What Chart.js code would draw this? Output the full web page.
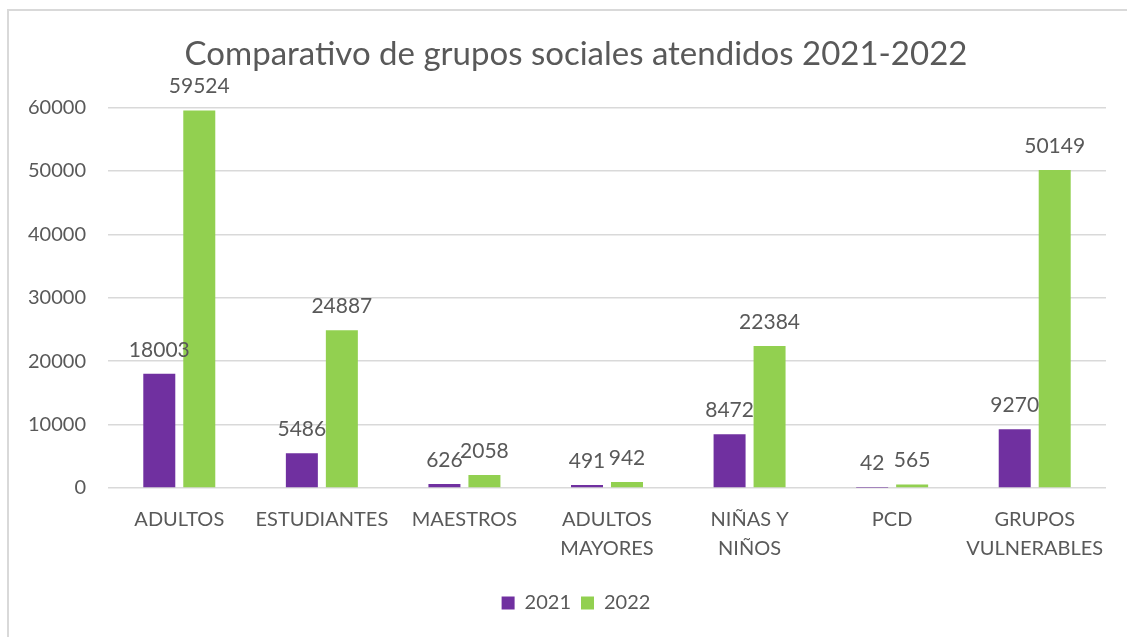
<!DOCTYPE html>
<html>
<head>
<meta charset="utf-8">
<script src="https://cdn.jsdelivr.net/npm/chart.js@4.4.0/dist/chart.umd.min.js"></script>
<style>
  html, body { margin: 0; padding: 0; background: #ffffff; }
  #frame {
    position: absolute; left: 7px; top: 9px; width: 1200px; height: 700px;
    border: 2px solid #d9d9d9; box-sizing: border-box;
  }
  #wrap { position: absolute; left: 0; top: 0; width: 1127px; height: 637px; }
</style>
</head>
<body>
<div id="frame"></div>
<div id="wrap"><canvas id="grupos"></canvas></div>
<script>
(function () {
    "use strict";

    const categories = [
        "ADULTOS",
        "ESTUDIANTES",
        "MAESTROS",
        ["ADULTOS", "MAYORES"],
        ["NIÑAS Y", "NIÑOS"],
        "PCD",
        ["GRUPOS", "VULNERABLES"],
    ];
    const values2021 = [18003, 5486, 626, 491, 8472, 42, 9270];
    const values2022 = [59524, 24887, 2058, 942, 22384, 565, 50149];
    const yTicks = [0, 10000, 20000, 30000, 40000, 50000, 60000];

    const textColor = "#595959";
    const fontFamily = "Lato, 'Open Sans', sans-serif";

    // Value labels above each bar
    const barLabels = {
        id: "barLabels",
        afterDatasetsDraw(chart) {
            const ctx = chart.ctx;
            ctx.save();
            ctx.font = "21px " + fontFamily;
            ctx.fillStyle = textColor;
            ctx.textAlign = "center";
            ctx.textBaseline = "middle";
            chart.data.datasets.forEach((ds, i) => {
                chart.getDatasetMeta(i).data.forEach((bar, j) => {
                    ctx.fillText(String(ds.data[j]), bar.x, bar.y - 24);
                });
            });
            ctx.restore();
        },
    };

    // let the y tick labels spill into the left padding (not clipped)
    const widenYLabels = {
        id: "widenYLabels",
        afterLayout(chart) {
            chart.scales.y.left = 0;
        },
    };

    const ctx = document.getElementById("grupos").getContext("2d");

    new Chart(ctx, {
        type: "bar",
        data: {
            labels: categories,
            datasets: [
                {
                    label: "2021",
                    data: values2021,
                    backgroundColor: "#7030A0",
                    borderWidth: 0,
                },
                {
                    label: "2022",
                    data: values2022,
                    backgroundColor: "#92D050",
                    borderWidth: 0,
                },
            ],
        },
        options: {
            responsive: true,
            maintainAspectRatio: false,
            animation: false,
            categoryPercentage: 0.561,
            barPercentage: 0.8,
            layout: {
                padding: { left: 46, right: 21, top: 0, bottom: 14 },
            },
            plugins: {
                title: {
                    display: true,
                    text: "Comparativo de grupos sociales atendidos 2021-2022",
                    color: textColor,
                    font: { family: fontFamily, size: 33, weight: "normal" },
                    padding: { top: 35, bottom: 33 },
                },
                legend: {
                    position: "bottom",
                    labels: {
                        color: textColor,
                        font: { family: fontFamily, size: 20 },
                        boxWidth: 13,
                        boxHeight: 13,
                        padding: 10,
                    },
                },
                tooltip: { enabled: false },
            },
            scales: {
                x: {
                    grid: { display: false, drawTicks: false },
                    border: { display: false },
                    ticks: {
                        color: textColor,
                        font: { family: fontFamily, size: 20, lineHeight: 1.45 },
                        padding: 17,
                        maxRotation: 0,
                        autoSkip: false,
                    },
                    afterFit(scale) {
                        scale.height = 95;
                    },
                },
                y: {
                    min: 0,
                    max: 60000,
                    grid: { color: "#d9d9d9", lineWidth: 1.5, drawTicks: false },
                    border: { display: false },
                    afterBuildTicks(scale) {
                        scale.ticks = yTicks.map((v) => ({ value: v }));
                    },
                    ticks: {
                        color: textColor,
                        font: { family: fontFamily, size: 20 },
                        padding: 22,
                        callback: (v) => String(v),
                    },
                    afterFit(scale) {
                        scale.width = 62;
                    },
                },
            },
        },
        plugins: [barLabels, widenYLabels],
    });
})();
</script>
</body>
</html>
